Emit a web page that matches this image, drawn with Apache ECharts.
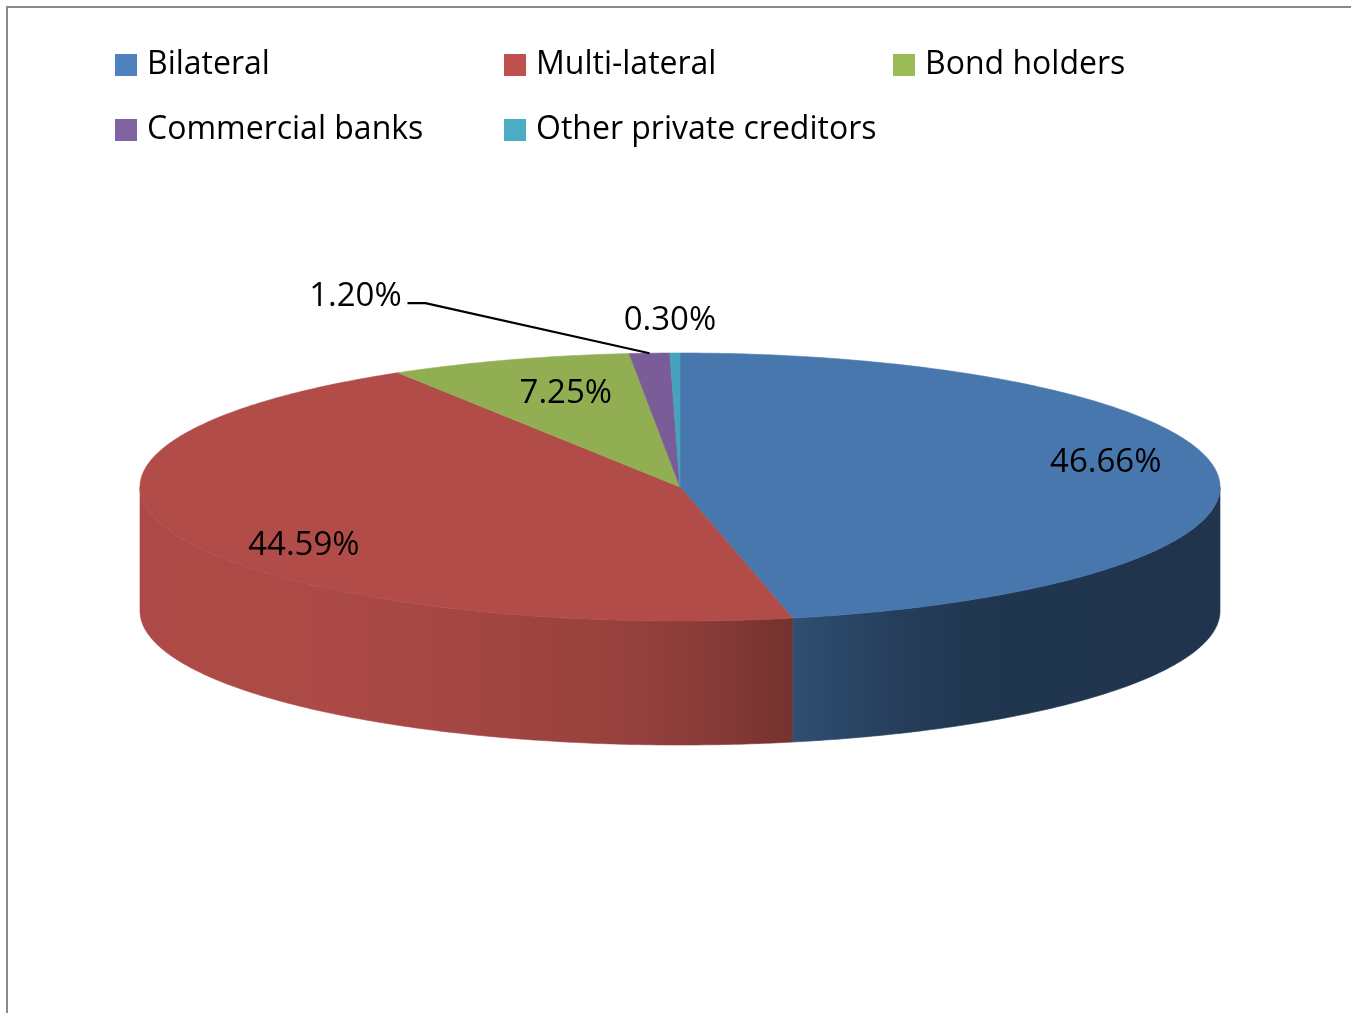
<!DOCTYPE html>
<html>
<head>
<meta charset="utf-8">
<script src="https://cdn.jsdelivr.net/npm/echarts@6/dist/echarts.min.js"></script>
<style>
  html, body { margin: 0; padding: 0; background: #ffffff; }
  #chart { width: 1351px; height: 1013px; }
</style>
</head>
<body>
<div id="chart"></div>
<script>
// Creditor composition of external debt (percent shares)
const categories = ['Bilateral', 'Multi-lateral', 'Bond holders', 'Commercial banks', 'Other private creditors'];
const shares = [46.66, 44.59, 7.25, 1.20, 0.30];

// Colours: top faces of the slab and legend keys
const topColors = ['#4877AE', '#B14C48', '#92AE53', '#795C98', '#46A3BC'];
const legendColors = ['#4F81BD', '#C0504D', '#9BBB59', '#8064A2', '#4BACC6'];

// Slab geometry (ellipse of the top face and the wall thickness)
const PIE = { cx: 680, cy: 487, rx: 540, ry: 134, depth: 124 };
const FONT = '"Open Sans", "Noto Sans", sans-serif';

// Wall lighting: brightness factor across the width of the slab (u = -1 left .. 1 right)
const shadeStops = [[-1, 0.98], [-0.7, 0.97], [-0.42, 0.93], [-0.14, 0.86], [0.04, 0.78],
                    [0.2, 0.66], [0.41, 0.52], [0.58, 0.45], [1, 0.44]];

// Label placement per slice: inside the top face, or outside with/without a leader
const labelPlacement = [
  { mode: 'inside', dx: 23, dy: -14 },
  { mode: 'inside', dx: 0, dy: 21 },
  { mode: 'inside', dx: 14, dy: 2 },
  { mode: 'leader', dx: -294, dy: -57 },
  { mode: 'outside', dx: -5, dy: -32 }
];

const total = shares.reduce((a, b) => a + b, 0);
const startPct = shares.map((_, i) => shares.slice(0, i).reduce((a, b) => a + b, 0));

function pt(deg, k, dy) {
  const r = deg * Math.PI / 180;
  return [PIE.cx + PIE.rx * k * Math.sin(r), PIE.cy - PIE.ry * k * Math.cos(r) + (dy || 0)];
}

function arc(a0, a1, dy) {
  const pts = [];
  const n = Math.max(2, Math.ceil(Math.abs(a1 - a0) / 0.5));
  for (let j = 0; j <= n; j++) pts.push(pt(a0 + (a1 - a0) * j / n, 1, dy));
  return pts;
}

function shadeAt(u) {
  for (let j = 1; j < shadeStops.length; j++) {
    if (u <= shadeStops[j][0]) {
      const [u0, s0] = shadeStops[j - 1], [u1, s1] = shadeStops[j];
      return s0 + (s1 - s0) * (u - u0) / (u1 - u0);
    }
  }
  return shadeStops[shadeStops.length - 1][1];
}

function darken(hex, f) {
  const n = parseInt(hex.slice(1), 16);
  const c = [(n >> 16) & 255, (n >> 8) & 255, n & 255].map(v => Math.round(v * f));
  return 'rgb(' + c.join(',') + ')';
}

function renderSlice(params, api) {
  const i = params.seriesIndex;
  const value = api.value(0);
  const a0 = startPct[i] / total * 360;
  const a1 = a0 + value / total * 360;
  const children = [];

  // Front wall: visible part of the rim lies between 90 and 270 degrees
  const w0 = Math.max(a0, 90), w1 = Math.min(a1, 270);
  if (w1 > w0) {
    const top = arc(w0, w1, 0);
    const bottom = arc(w1, w0, PIE.depth);
    const xs = top.map(p => p[0]);
    const x0 = Math.min(...xs), x1 = Math.max(...xs);
    const stops = [];
    for (let j = 0; j <= 20; j++) {
      const x = x0 + (x1 - x0) * j / 20;
      stops.push({ offset: j / 20, color: darken(topColors[i], shadeAt((x - PIE.cx) / PIE.rx)) });
    }
    const grad = new echarts.graphic.LinearGradient(x0, 0, x1, 0, stops, true);
    children.push({
      type: 'polygon',
      shape: { points: top.concat(bottom) },
      style: { fill: grad, stroke: grad, lineWidth: 0.6 },
      z2: 1
    });
  }

  // Top face
  children.push({
    type: 'polygon',
    shape: { points: [[PIE.cx, PIE.cy]].concat(arc(a0, a1, 0)) },
    style: { fill: topColors[i], stroke: topColors[i], lineWidth: 0.6 },
    z2: 2
  });

  // Value label
  const mid = (a0 + a1) / 2;
  const place = labelPlacement[i];
  const text = value.toFixed(2) + '%';
  let lx, ly;
  if (place.mode === 'inside') {
    const p = pt(mid, 0.75);
    lx = p[0] + place.dx; ly = p[1] + place.dy;
  } else {
    const edge = pt(mid, 1);
    lx = edge[0] + place.dx; ly = edge[1] + place.dy;
    if (place.mode === 'leader') {
      children.push({
        type: 'polyline',
        shape: { points: [edge, [lx + 70, ly + 7], [lx + 52, ly + 7]] },
        style: { stroke: '#000000', lineWidth: 2.2, fill: null },
        z2: 3
      });
    }
  }
  children.push({
    type: 'text',
    style: {
      text: text, x: lx, y: ly, align: 'center', verticalAlign: 'middle',
      fill: '#000000', fontSize: 33, fontFamily: FONT
    },
    z2: 4
  });

  return { type: 'group', children: children };
}

const chart = echarts.init(document.getElementById('chart'), null, { renderer: 'canvas' });

chart.setOption({
  backgroundColor: '#ffffff',
  animation: false,
  graphic: [{
    type: 'rect',
    shape: { x: 7, y: 7, width: 1400, height: 1100 },
    style: { fill: null, stroke: '#8A8A8A', lineWidth: 2 },
    silent: true
  }],
  legend: {
    left: 115,
    top: 45,
    width: 1160,
    padding: 0,
    itemWidth: 22,
    itemHeight: 22,
    itemGap: 25,
    icon: 'rect',
    selectedMode: false,
    data: categories.map((name, i) => ({ name: name, itemStyle: { color: legendColors[i] } })),
    textStyle: {
      fontSize: 32, fontFamily: FONT, color: '#000000',
      lineHeight: 40, width: 332, padding: [0, 0, 0, 5]
    }
  },
  series: categories.map((name, i) => ({
    type: 'custom',
    name: name,
    coordinateSystem: 'none',
    itemStyle: { color: legendColors[i] },
    renderItem: renderSlice,
    data: [[shares[i]]]
  }))
});
</script>
</body>
</html>
